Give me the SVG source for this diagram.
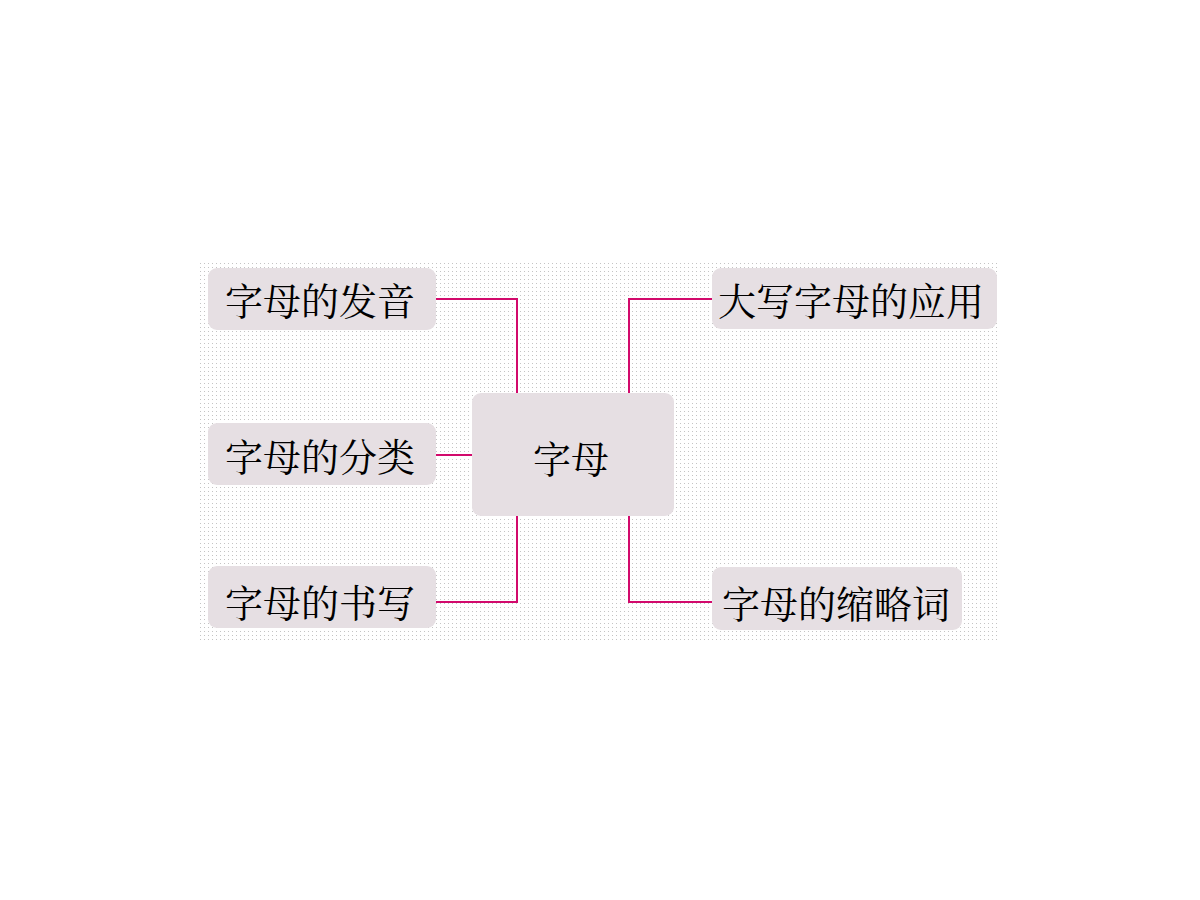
<svg xmlns="http://www.w3.org/2000/svg" width="1200" height="900" viewBox="0 0 1200 900">
  <defs>
    <pattern id="dots" x="200" y="263" width="4" height="4" patternUnits="userSpaceOnUse">
      <rect x="0" y="0" width="1" height="1" fill="#c4c4c4"/>
    </pattern>
  </defs>
  <style>
    .box { fill: #e6dfe3; }
    .lbl { font-family: "Noto Serif CJK SC", "Liberation Serif", "Noto Sans CJK SC", serif; font-size: 38px; fill: #000; text-anchor: middle; dominant-baseline: central; }
    .conn { fill: none; stroke: #d20a6c; stroke-width: 2; }
  </style>
  <rect x="0" y="0" width="1200" height="900" fill="#ffffff"/>
  <rect x="200" y="263" width="798" height="378" fill="url(#dots)"/>

  <g id="connectors">
    <polyline class="conn" points="436,299 517,299 517,393"/>
    <polyline class="conn" points="436,455 472,455"/>
    <polyline class="conn" points="436,602 517,602 517,516"/>
    <polyline class="conn" points="629,393 629,299 712,299"/>
    <polyline class="conn" points="629,516 629,602 712,602"/>
  </g>

  <g id="node-center">
    <rect class="box" x="472" y="393" width="202" height="123" rx="9"/>
    <text class="lbl" x="571" y="456">字母</text>
  </g>
  <g id="node-fayin">
    <rect class="box" x="208" y="268" width="228" height="62" rx="9"/>
    <text class="lbl" x="320" y="298">字母的发音</text>
  </g>
  <g id="node-fenlei">
    <rect class="box" x="208" y="423" width="228" height="62" rx="9"/>
    <text class="lbl" x="320" y="454">字母的分类</text>
  </g>
  <g id="node-shuxie">
    <rect class="box" x="208" y="566" width="228" height="62" rx="9"/>
    <text class="lbl" x="320" y="600">字母的书写</text>
  </g>
  <g id="node-daxie">
    <rect class="box" x="712" y="268" width="285" height="61" rx="9"/>
    <text class="lbl" x="851" y="298">大写字母的应用</text>
  </g>
  <g id="node-suolue">
    <rect class="box" x="712" y="567" width="250" height="63" rx="9"/>
    <text class="lbl" x="836" y="601">字母的缩略词</text>
  </g>
</svg>
